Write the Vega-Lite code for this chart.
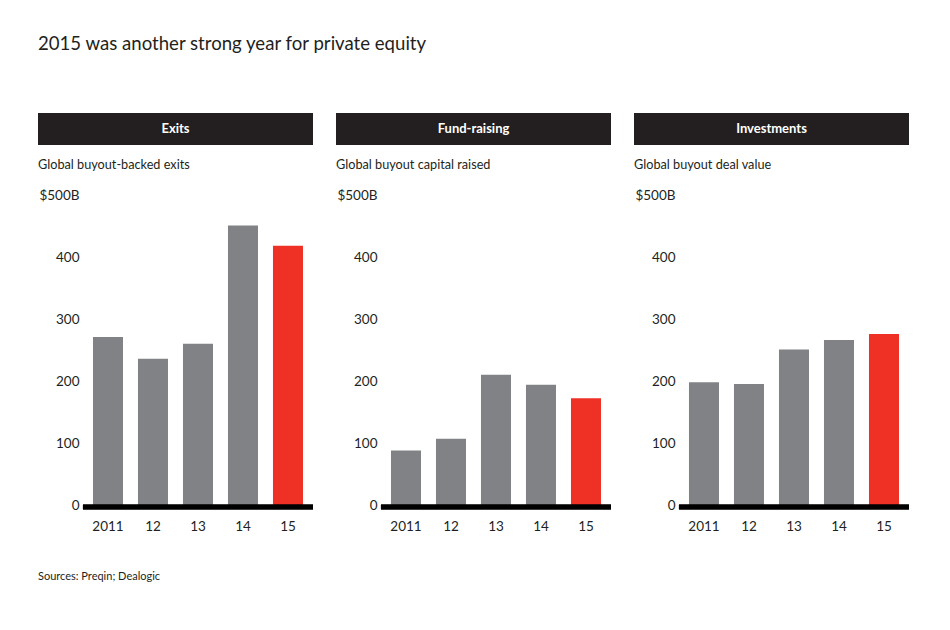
{
  "$schema": "https://vega.github.io/schema/vega-lite/v6.json",
  "background": "white",
  "padding": {"left": 38, "top": 35, "right": 10, "bottom": 10},
  "title": {"text": "2015 was another strong year for private equity", "anchor": "start", "fontSize": 18.6, "fontWeight": "normal", "font": "Lato", "color": "#231f20", "offset": 59},
  "datasets": {
    "panels": [
      {"panel": "Exits"},
      {"panel": "Fund-raising"},
      {"panel": "Investments"}
    ],
    "bars": [
      {"panel": "Exits", "year": "2011", "value": 271},
      {"panel": "Exits", "year": "12", "value": 236},
      {"panel": "Exits", "year": "13", "value": 260},
      {"panel": "Exits", "year": "14", "value": 451},
      {"panel": "Exits", "year": "15", "value": 418},
      {"panel": "Fund-raising", "year": "2011", "value": 88},
      {"panel": "Fund-raising", "year": "12", "value": 107},
      {"panel": "Fund-raising", "year": "13", "value": 210},
      {"panel": "Fund-raising", "year": "14", "value": 194},
      {"panel": "Fund-raising", "year": "15", "value": 172},
      {"panel": "Investments", "year": "2011", "value": 198},
      {"panel": "Investments", "year": "12", "value": 195},
      {"panel": "Investments", "year": "13", "value": 251},
      {"panel": "Investments", "year": "14", "value": 266},
      {"panel": "Investments", "year": "15", "value": 276}
    ]
  },
  "vconcat": [
    {
      "title": {"text": "Sources: Preqin; Dealogic", "orient": "bottom", "anchor": "start", "fontSize": 11, "fontWeight": "normal", "font": "Lato", "color": "#231f20", "offset": 38},
      "spacing": 20,
      "hconcat": [
        {
          "spacing": 14,
          "vconcat": [
            {
              "width": 275, "height": 32,
              "view": {"fill": "#231f20", "stroke": null},
              "data": {"name": "panels"},
              "transform": [{"filter": "datum.panel === 'Exits'"}],
              "mark": {"type": "text", "color": "white", "fontWeight": "bold", "fontSize": 13, "font": "Lato", "baseline": "middle"},
              "encoding": {"text": {"field": "panel"}}
            },
            {
              "width": 275, "height": 310,
              "title": {"text": "Global buyout-backed exits", "anchor": "start", "frame": "bounds", "fontSize": 12.7, "fontWeight": "normal", "font": "Lato", "color": "#231f20", "offset": 16},
              "data": {"name": "bars"},
              "transform": [{"filter": "datum.panel === 'Exits'"}],
              "layer": [
                {
                  "mark": {"type": "bar"},
                  "encoding": {
                    "x": {"field": "year", "type": "ordinal", "sort": null, "scale": {"paddingInner": 0.333, "paddingOuter": 0.722, "align": 0.846}, "axis": {"title": null, "labelAngle": 0, "ticks": false, "domain": false, "labelPadding": 14}},
                    "y": {"field": "value", "type": "quantitative", "scale": {"domain": [0, 500]}, "axis": {"title": null, "values": [0, 100, 200, 300, 400, 500], "labelExpr": "datum.value === 500 ? '$500B' : datum.label", "grid": false, "domain": false, "ticks": false, "labelPadding": 4, "offset": -45}},
                    "color": {"condition": {"test": "datum.year === '15'", "value": "#ee3124"}, "value": "#808285"}
                  }
                },
                {
                  "mark": {"type": "rule", "color": "black", "strokeWidth": 4.5, "strokeCap": "butt", "xOffset": -10, "x2Offset": 10, "yOffset": 2},
                  "encoding": {
                    "x": {"datum": "2011", "bandPosition": 0},
                    "x2": {"datum": "15", "bandPosition": 1},
                    "y": {"datum": 0}
                  }
                }
              ]
            }
          ]
        },
        {
          "spacing": 14,
          "vconcat": [
            {
              "width": 275, "height": 32,
              "view": {"fill": "#231f20", "stroke": null},
              "data": {"name": "panels"},
              "transform": [{"filter": "datum.panel === 'Fund-raising'"}],
              "mark": {"type": "text", "color": "white", "fontWeight": "bold", "fontSize": 13, "font": "Lato", "baseline": "middle"},
              "encoding": {"text": {"field": "panel"}}
            },
            {
              "width": 275, "height": 310,
              "title": {"text": "Global buyout capital raised", "anchor": "start", "frame": "bounds", "fontSize": 12.7, "fontWeight": "normal", "font": "Lato", "color": "#231f20", "offset": 16},
              "data": {"name": "bars"},
              "transform": [{"filter": "datum.panel === 'Fund-raising'"}],
              "layer": [
                {
                  "mark": {"type": "bar"},
                  "encoding": {
                    "x": {"field": "year", "type": "ordinal", "sort": null, "scale": {"paddingInner": 0.333, "paddingOuter": 0.722, "align": 0.846}, "axis": {"title": null, "labelAngle": 0, "ticks": false, "domain": false, "labelPadding": 14}},
                    "y": {"field": "value", "type": "quantitative", "scale": {"domain": [0, 500]}, "axis": {"title": null, "values": [0, 100, 200, 300, 400, 500], "labelExpr": "datum.value === 500 ? '$500B' : datum.label", "grid": false, "domain": false, "ticks": false, "labelPadding": 4, "offset": -45}},
                    "color": {"condition": {"test": "datum.year === '15'", "value": "#ee3124"}, "value": "#808285"}
                  }
                },
                {
                  "mark": {"type": "rule", "color": "black", "strokeWidth": 4.5, "strokeCap": "butt", "xOffset": -10, "x2Offset": 10, "yOffset": 2},
                  "encoding": {
                    "x": {"datum": "2011", "bandPosition": 0},
                    "x2": {"datum": "15", "bandPosition": 1},
                    "y": {"datum": 0}
                  }
                }
              ]
            }
          ]
        },
        {
          "spacing": 14,
          "vconcat": [
            {
              "width": 275, "height": 32,
              "view": {"fill": "#231f20", "stroke": null},
              "data": {"name": "panels"},
              "transform": [{"filter": "datum.panel === 'Investments'"}],
              "mark": {"type": "text", "color": "white", "fontWeight": "bold", "fontSize": 13, "font": "Lato", "baseline": "middle"},
              "encoding": {"text": {"field": "panel"}}
            },
            {
              "width": 275, "height": 310,
              "title": {"text": "Global buyout deal value", "anchor": "start", "frame": "bounds", "fontSize": 12.7, "fontWeight": "normal", "font": "Lato", "color": "#231f20", "offset": 16},
              "data": {"name": "bars"},
              "transform": [{"filter": "datum.panel === 'Investments'"}],
              "layer": [
                {
                  "mark": {"type": "bar"},
                  "encoding": {
                    "x": {"field": "year", "type": "ordinal", "sort": null, "scale": {"paddingInner": 0.333, "paddingOuter": 0.722, "align": 0.846}, "axis": {"title": null, "labelAngle": 0, "ticks": false, "domain": false, "labelPadding": 14}},
                    "y": {"field": "value", "type": "quantitative", "scale": {"domain": [0, 500]}, "axis": {"title": null, "values": [0, 100, 200, 300, 400, 500], "labelExpr": "datum.value === 500 ? '$500B' : datum.label", "grid": false, "domain": false, "ticks": false, "labelPadding": 4, "offset": -45}},
                    "color": {"condition": {"test": "datum.year === '15'", "value": "#ee3124"}, "value": "#808285"}
                  }
                },
                {
                  "mark": {"type": "rule", "color": "black", "strokeWidth": 4.5, "strokeCap": "butt", "xOffset": -10, "x2Offset": 10, "yOffset": 2},
                  "encoding": {
                    "x": {"datum": "2011", "bandPosition": 0},
                    "x2": {"datum": "15", "bandPosition": 1},
                    "y": {"datum": 0}
                  }
                }
              ]
            }
          ]
        }
      ]
    }
  ],
  "config": {
    "view": {"stroke": null},
    "font": "Lato",
    "axis": {"labelFont": "Lato", "labelFontSize": 13.5, "labelColor": "#231f20"}
  }
}
